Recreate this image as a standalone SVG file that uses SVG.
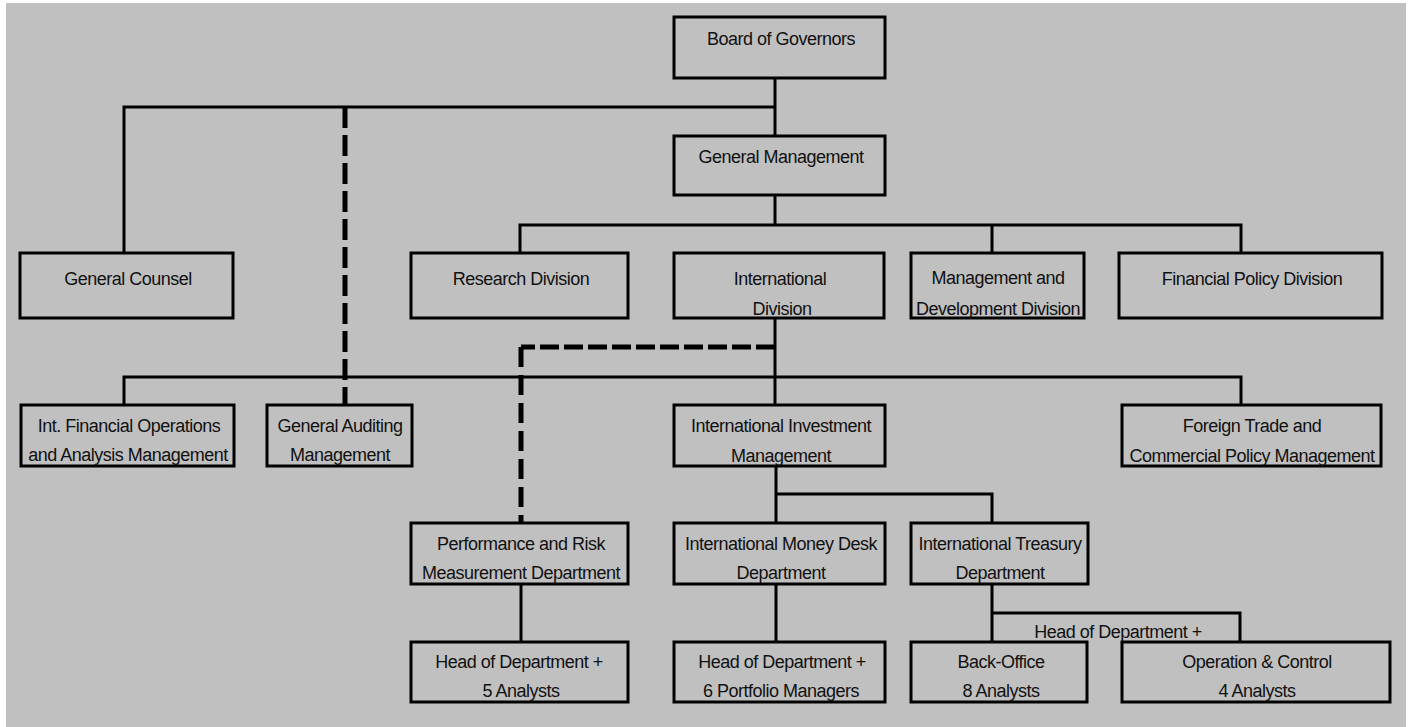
<svg xmlns="http://www.w3.org/2000/svg" width="1411" height="727" viewBox="0 0 1411 727">
<style>
.box{fill:#C0C0C0;stroke:#000;stroke-width:3}
.ln{fill:none;stroke:#000;stroke-width:3}
.dash{fill:none;stroke:#000;stroke-width:5}
text{font-family:"Liberation Sans",Arial,sans-serif;font-size:18px;letter-spacing:-0.5px;fill:#111;text-anchor:middle}
</style>
<rect x="0" y="0" width="1411" height="727" fill="#fff"/>
<rect x="6" y="3" width="1400" height="724" fill="#C0C0C0"/>
<g id="connectors">
<path class="ln" d="M775 78V136M124 253V107H775M775 195V225M520 253V225H1241V253M992 225V253"/>
<path class="ln" d="M775 318V405M124 405V377H1241V405"/>
<path class="ln" d="M776 466V523M776 494H992V523M521 584V642M776 584V642M992 584V642M992 613H1240V642"/>
<path class="dash" d="M345 107V405" stroke-dasharray="21 7"/>
<path class="dash" d="M775 347H521" stroke-dasharray="19 5"/>
<path class="dash" d="M521 347V523" stroke-dasharray="20 8"/>
</g>
<g id="board"><rect class="box" x="674" y="17" width="211" height="61"/><text x="781" y="45">Board of Governors</text></g>
<g id="general-management"><rect class="box" x="674" y="136" width="211" height="59"/><text x="781" y="163">General Management</text></g>
<g id="general-counsel"><rect class="box" x="20" y="253" width="213" height="65"/><text x="128" y="285">General Counsel</text></g>
<g id="research"><rect class="box" x="411" y="253" width="217" height="65"/><text x="521" y="285">Research Division</text></g>
<g id="international-division"><rect class="box" x="674" y="253" width="210" height="65"/><text x="780" y="285">International</text><text x="782" y="315">Division</text></g>
<g id="management-development"><rect class="box" x="911" y="253" width="173" height="65"/><text x="998" y="284">Management and</text><text x="998" y="315">Development Division</text></g>
<g id="financial-policy"><rect class="box" x="1119" y="253" width="263" height="65"/><text x="1252" y="285">Financial Policy Division</text></g>
<g id="int-financial-ops"><rect class="box" x="21" y="405" width="213" height="61"/><text x="129" y="432">Int. Financial Operations</text><text x="128" y="461">and Analysis Management</text></g>
<g id="general-auditing"><rect class="box" x="267" y="405" width="145" height="61"/><text x="340" y="432">General  Auditing</text><text x="340" y="461">Management</text></g>
<g id="int-investment"><rect class="box" x="674" y="405" width="211" height="61"/><text x="781" y="432">International Investment</text><text x="781" y="462">Management</text></g>
<g id="foreign-trade"><rect class="box" x="1122" y="405" width="259" height="61"/><text x="1252" y="432">Foreign Trade and</text><text x="1252" y="462">Commercial Policy Management</text></g>
<g id="performance-risk"><rect class="box" x="411" y="523" width="217" height="61"/><text x="521" y="550">Performance and Risk</text><text x="521" y="579">Measurement Department</text></g>
<g id="money-desk"><rect class="box" x="674" y="523" width="211" height="61"/><text x="781" y="550">International Money Desk</text><text x="781" y="579">Department</text></g>
<g id="treasury"><rect class="box" x="911" y="523" width="177" height="61"/><text x="1000" y="550">International Treasury</text><text x="1000" y="579">Department</text></g>
<g id="head-5"><rect class="box" x="411" y="642" width="217" height="60"/><text x="519" y="668">Head of Department +</text><text x="521" y="697">5 Analysts</text></g>
<g id="head-6"><rect class="box" x="674" y="642" width="211" height="60"/><text x="782" y="668">Head of Department +</text><text x="781" y="697">6 Portfolio Managers</text></g>
<g id="back-office"><rect class="box" x="911" y="642" width="176" height="60"/><text x="1001" y="668">Back-Office</text><text x="1001" y="697">8 Analysts</text></g>
<g id="operation-control"><rect class="box" x="1122" y="642" width="268" height="60"/><text x="1257" y="668">Operation &amp; Control</text><text x="1257" y="697">4 Analysts</text></g>
<g id="treasury-label"><text x="1118" y="638">Head of Department +</text></g>
</svg>
